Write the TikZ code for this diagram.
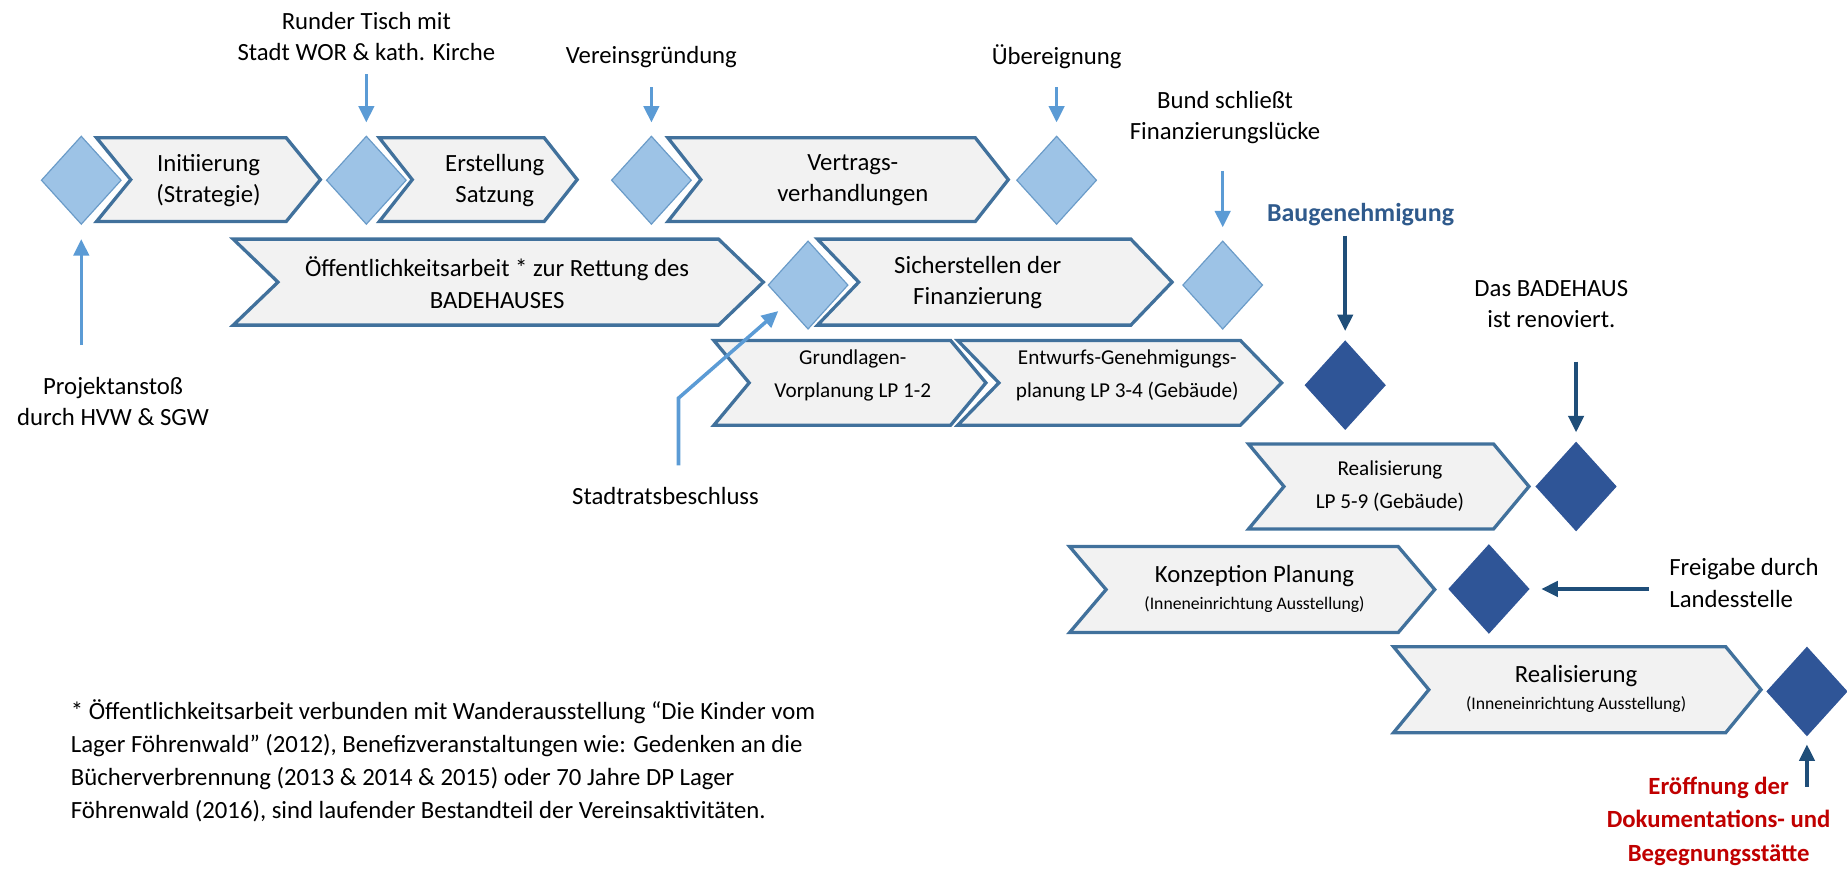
\documentclass[tikz,border=0pt]{standalone}
\usepackage{fontspec}
\setmainfont{Carlito}
\usetikzlibrary{shapes.geometric,arrows.meta}
\definecolor{chevfill}{HTML}{F2F2F2}
\definecolor{chevdraw}{HTML}{41719C}
\definecolor{lightfill}{HTML}{9DC3E6}
\definecolor{lightdraw}{HTML}{6A9BC8}
\definecolor{darkfill}{HTML}{2F5597}
\definecolor{lightarr}{HTML}{5B9BD5}
\definecolor{darkarr}{HTML}{1F4E79}
\definecolor{baublue}{HTML}{2F5A8C}
\definecolor{redtext}{HTML}{C00000}
\newcommand\fsmain{\fontsize{21}{26.5}\selectfont}
\newcommand\fssmall{\fontsize{18}{28}\selectfont}
\newcommand\fstiny{\fontsize{15}{18}\selectfont}
\newcommand\fsnote{\fontsize{21}{28}\selectfont}
\newcommand\chev[5]{\draw[chevbox] (#1,#4) -- (#2,#4) -- ({#2+#3},{(#4+#5)/2}) -- (#2,#5) -- (#1,#5) -- ({#1+#3},{(#4+#5)/2}) -- cycle;}
\begin{document}
\begin{tikzpicture}[x=1pt,y=-1pt,
  chevbox/.style={draw=chevdraw,fill=chevfill,line width=2.8pt},
  ctext/.style={align=center,inner sep=0pt,font=\fsmain},
  csmall/.style={align=center,inner sep=0pt,font=\fssmall},
  ldia/.style={diamond,minimum width=68pt,minimum height=75pt,inner sep=0pt,fill=lightfill,draw=lightdraw,line width=1pt},
  ddia/.style={diamond,minimum width=68pt,minimum height=75pt,inner sep=0pt,fill=darkfill,draw=darkfill,line width=1pt},
  larrow/.style={draw=lightarr,line width=3pt,-{Triangle[length=14pt,width=13pt]}},
  darrow/.style={draw=darkarr,line width=3pt,-{Triangle[length=14pt,width=13pt]}},
  lbl/.style={align=center,inner sep=0pt,font=\fsmain}]
\useasboundingbox (0,0) rectangle (1568,737);

% chevrons
\chev{82}{243}{29}{117}{188}
\node[ctext] (c1) at (177,153) {Initiierung\\(Strategie)};
\chev{322}{462}{28}{117}{188}
\node[ctext] (c2) at (420,153) {Erstellung\\Satzung};
\chev{567}{828}{28}{117}{188}
\node[ctext] (c3) at (724,153) {Vertrags-\\verhandlungen};
\chev{198}{610}{38}{203}{276}
\node[ctext] (c4) at (422,240) {Öffentlichkeitsarbeit * zur Rettung des\\BADEHAUSES};
\chev{694}{960}{35}{203}{276}
\node[ctext] (c5) at (830,240) {Sicherstellen der\\Finanzierung};
\chev{606}{807}{30}{289}{361}
\node[csmall] (c6) at (724,319) {Grundlagen-\\Vorplanung LP 1-2};
\chev{813}{1053}{35}{289}{361}
\node[csmall] (c7) at (957,319) {Entwurfs-Genehmigungs-\\planung LP 3-4 (Gebäude)};
\chev{1060}{1268}{30}{377}{449}
\node[csmall] (c8) at (1180,413) {Realisierung\\LP 5-9 (Gebäude)};
\chev{908}{1187}{31}{464}{537}
\node[ctext] (c9) at (1065,500) {Konzeption Planung\\[-4pt]{\fstiny(Inneneinrichtung Ausstellung)}};
\chev{1183}{1465}{30}{549}{622}
\node[ctext] (c10) at (1338,585) {Realisierung\\[-4pt]{\fstiny(Inneneinrichtung Ausstellung)}};

% diamonds
\node[ldia] (D1) at (69,153) {};
\node[ldia] (D2) at (311,153) {};
\node[ldia] (D3) at (553,153) {};
\node[ldia] (D4) at (897,153) {};
\node[ldia] (D5) at (686,242) {};
\node[ldia] (D6) at (1038,242) {};
\node[ddia] (D7) at (1142,327) {};
\node[ddia] (D8) at (1338,413) {};
\node[ddia] (D9) at (1264,500) {};
\node[ddia] (D10) at (1534,587) {};

% labels
\node[lbl] (tRunder) at (311,31) {Runder Tisch mit\\Stadt WOR \& kath. Kirche};
\node[lbl] (tVerein) at (553,48) {Vereinsgründung};
\node[lbl] (tUeber) at (897,48) {Übereignung};
\node[lbl] (tBund) at (1040,100) {Bund schließt\\Finanzierungslücke};
\node[lbl,font=\fontsize{22}{26}\selectfont\bfseries,text=baublue] (tBau) at (1155,182) {Baugenehmigung};
\node[lbl] (tBade) at (1317,258) {Das BADEHAUS\\ist renoviert.};
\node[lbl,align=left,anchor=west] (tFrei) at (1417,495) {Freigabe durch\\Landesstelle};
\node[lbl] (tProj) at (96,341) {Projektanstoß\\durch HVW \& SGW};
\node[lbl] (tStadt) at (565,421) {Stadtratsbeschluss};
\node[lbl,font=\fontsize{21}{28.5}\selectfont\bfseries,text=redtext] (tEroe) at (1459,697) {Eröffnung der\\Dokumentations- und\\Begegnungsstätte};
\node[align=left,anchor=west,inner sep=0pt,font=\fsnote] (note) at (60,646) {* Öffentlichkeitsarbeit verbunden mit Wanderausstellung “Die Kinder vom\\Lager Föhrenwald” (2012), Benefizveranstaltungen wie: Gedenken an die\\Bücherverbrennung (2013 \& 2014 \& 2015) oder 70 Jahre DP Lager\\Föhrenwald (2016), sind laufender Bestandteil der Vereinsaktivitäten.};

% arrows
\coordinate (aRunder) at (311,63);
\coordinate (aVerein) at (553,74);
\coordinate (aUeber) at (897,74);
\coordinate (aBund) at (1038,145);
\coordinate (aProj) at (69,293);
\coordinate (aStadt1) at (576,395);
\coordinate (aStadt2) at (576,338);
\coordinate (aBau) at (1142,200);
\coordinate (aBade) at (1338,307);
\coordinate (aFrei) at (1400,500);
\coordinate (aEroe) at (1534,668);
\draw[larrow,shorten >=11pt] (aRunder) -- (D2.north);
\draw[larrow,shorten >=11pt] (aVerein) -- (D3.north);
\draw[larrow,shorten >=11pt] (aUeber) -- (D4.north);
\draw[larrow,shorten >=11pt] (aBund) -- (D6.north);
\draw[larrow,shorten >=12pt] (aProj) -- (D1.south);
\draw[larrow,shorten >=8pt] (aStadt1) -- (aStadt2) -- (D5);
\draw[darrow,shorten >=8pt] (aBau) -- (D7.north);
\draw[darrow,shorten >=8pt] (aBade) -- (D8.north);
\draw[darrow,shorten >=10pt] (aFrei) -- (D9.east);
\draw[darrow,shorten >=7pt] (aEroe) -- (D10.south);
\end{tikzpicture}
\end{document}
